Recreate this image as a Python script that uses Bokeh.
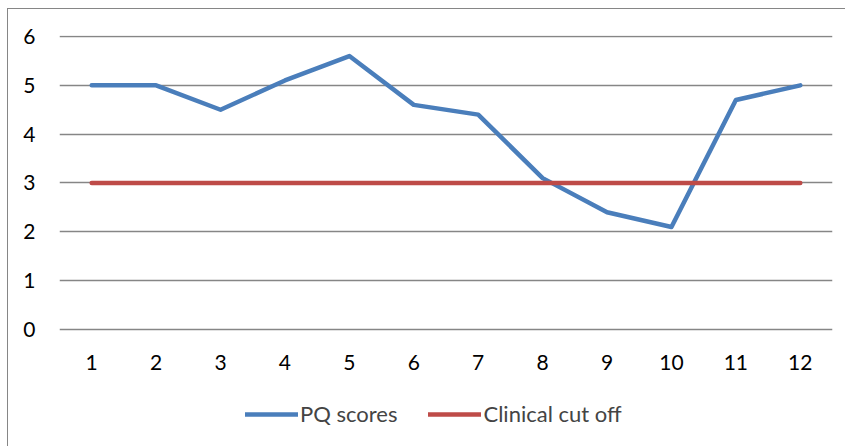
from bokeh.plotting import figure
from bokeh.models import Legend, LegendItem, FixedTicker, Range1d
from bokeh.embed import file_html
from bokeh.resources import INLINE

sessions = [1, 2, 3, 4, 5, 6, 7, 8, 9, 10, 11, 12]
pq_scores = [5.0, 5.0, 4.5, 5.1, 5.6, 4.6, 4.4, 3.1, 2.4, 2.1, 4.7, 5.0]
cutoff = [3, 3, 3, 3, 3, 3, 3, 3, 3, 3, 3, 3]
y_ticks = [0, 1, 2, 3, 4, 5, 6]

FONT = "Lato"
GRID = "#868686"
FS = "21px"

p = figure(width=838, height=438, output_backend="svg", toolbar_location=None,
           x_range=Range1d(0.5, 12.5), y_range=Range1d(-2.4165, 6.0205),
           min_border_left=51, min_border_right=14, min_border_top=26, min_border_bottom=0)
p.styles = {"position": "relative", "left": "7px", "top": "8px",
            "border-left": "1px solid #868686", "border-top": "1px solid #868686"}
p.outline_line_color = None
p.background_fill_color = "white"
p.border_fill_color = "white"

p.xgrid.grid_line_color = None
p.ygrid.grid_line_color = GRID
p.ygrid.grid_line_width = 1.5
p.ygrid.ticker = FixedTicker(ticks=y_ticks)

p.yaxis.ticker = FixedTicker(ticks=y_ticks)
p.xaxis.ticker = FixedTicker(ticks=sessions)
p.xaxis.fixed_location = 0
for ax in (p.xaxis[0], p.yaxis[0]):
    ax.axis_line_color = None
    ax.major_tick_line_color = None
    ax.minor_tick_line_color = None
    ax.major_tick_out = 0
    ax.major_tick_in = 0
    ax.minor_tick_out = 0
    ax.major_label_text_font = FONT
    ax.major_label_text_font_size = FS
    ax.major_label_text_color = "#000000"
p.yaxis.major_label_standoff = 24
p.xaxis.major_label_standoff = 26

r1 = p.line(sessions, pq_scores, line_color="#4A7EBB", line_width=4.5, line_join="round", line_cap="round")
r2 = p.line(sessions, cutoff, line_color="#BE4B48", line_width=4.5, line_join="round", line_cap="round")

legend = Legend(items=[LegendItem(label="PQ scores", renderers=[r1]),
                       LegendItem(label="Clinical cut off", renderers=[r2])],
                orientation="horizontal", location=(186, 20),
                label_text_font=FONT, label_text_font_size="22px",
                glyph_width=53, glyph_height=20, label_height=20, label_standoff=2,
                spacing=31, padding=0, margin=0, border_line_color=None,
                background_fill_alpha=0)
p.add_layout(legend, "center")

open("out.html", "w").write(file_html(p, INLINE))
